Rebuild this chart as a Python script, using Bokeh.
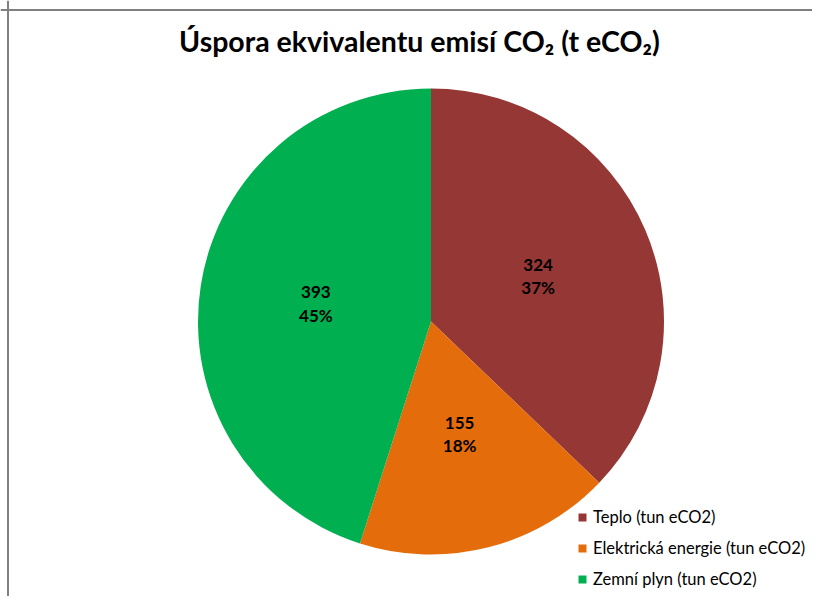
import numpy as np
from bokeh.plotting import figure
from bokeh.models import ColumnDataSource, Range1d, Span, Label
from bokeh.core.properties import value
from bokeh.embed import file_html
from bokeh.resources import INLINE

# ---- data ----
title_text = "Úspora ekvivalentu emisí CO₂ (t eCO₂)"
categories = ["Teplo (tun eCO2)", "Elektrická energie (tun eCO2)", "Zemní plyn (tun eCO2)"]
values = [324, 155, 393]
colors = ["#953735", "#E46C0A", "#00B050"]

# ---- layout ----
W, H = 812, 596
CX, CY = 430.5, 321.0      # pie centre in canvas px (from left / from top)
R = 233.0

vals = np.array(values, dtype=float)
total = vals.sum()
frac = vals / total
cum = np.concatenate([[0.0], np.cumsum(frac)])
start = np.pi / 2 - cum[:-1] * 2 * np.pi
end = np.pi / 2 - cum[1:] * 2 * np.pi
mid = (start + end) / 2
lab_r = 0.5 * R
texts = [f"{v}\n{round(f * 100)}%" for v, f in zip(values, frac)]

src = ColumnDataSource(dict(
    label=categories, value=values, color=colors,
    start=start, end=end,
    tx=lab_r * np.cos(mid), ty=lab_r * np.sin(mid), text=texts,
))

p = figure(width=W, height=H, output_backend="svg", toolbar_location=None,
           x_range=Range1d(-CX, W - CX), y_range=Range1d(-(H - CY), CY),
           x_axis_type=None, y_axis_type=None, min_border=0,
           background_fill_color="white", border_fill_color="white",
           outline_line_color=None)
p.grid.visible = False

p.wedge(x=0, y=0, radius=R, start_angle="start", end_angle="end",
        direction="clock", fill_color="color", line_color=None,
        legend_field="label", source=src)

p.text(x="tx", y="ty", text="text", source=src,
       text_font=value("Lato"), text_font_style="bold",
       text_font_size="17px", text_color="black",
       text_align="center", text_baseline="middle", text_line_height=1.1)

# title
p.add_layout(Label(x=419, y=H - 40, x_units="screen", y_units="screen",
                   text=title_text, text_font="Lato", text_font_style="bold",
                   text_font_size="28.5px", text_color="black",
                   text_align="center", text_baseline="middle"))

# chart-area border (left and top)
p.add_layout(Span(location=-CX + 7.5, dimension="height", line_color="#808080", line_width=2))
p.add_layout(Span(location=CY - 9.5, dimension="width", line_color="#808080", line_width=2))

lg = p.legend[0]
lg.location = (577, 7)
lg.orientation = "vertical"
lg.border_line_color = None
lg.background_fill_alpha = 0
lg.padding = 0
lg.margin = 0
lg.spacing = 11
lg.glyph_width = 10
lg.glyph_height = 10
lg.label_height = 20
lg.label_standoff = 6
lg.label_text_font = "Lato"
lg.label_text_font_size = "16.5px"
lg.label_text_color = "black"

open("out.html", "w").write(file_html(p, INLINE))
